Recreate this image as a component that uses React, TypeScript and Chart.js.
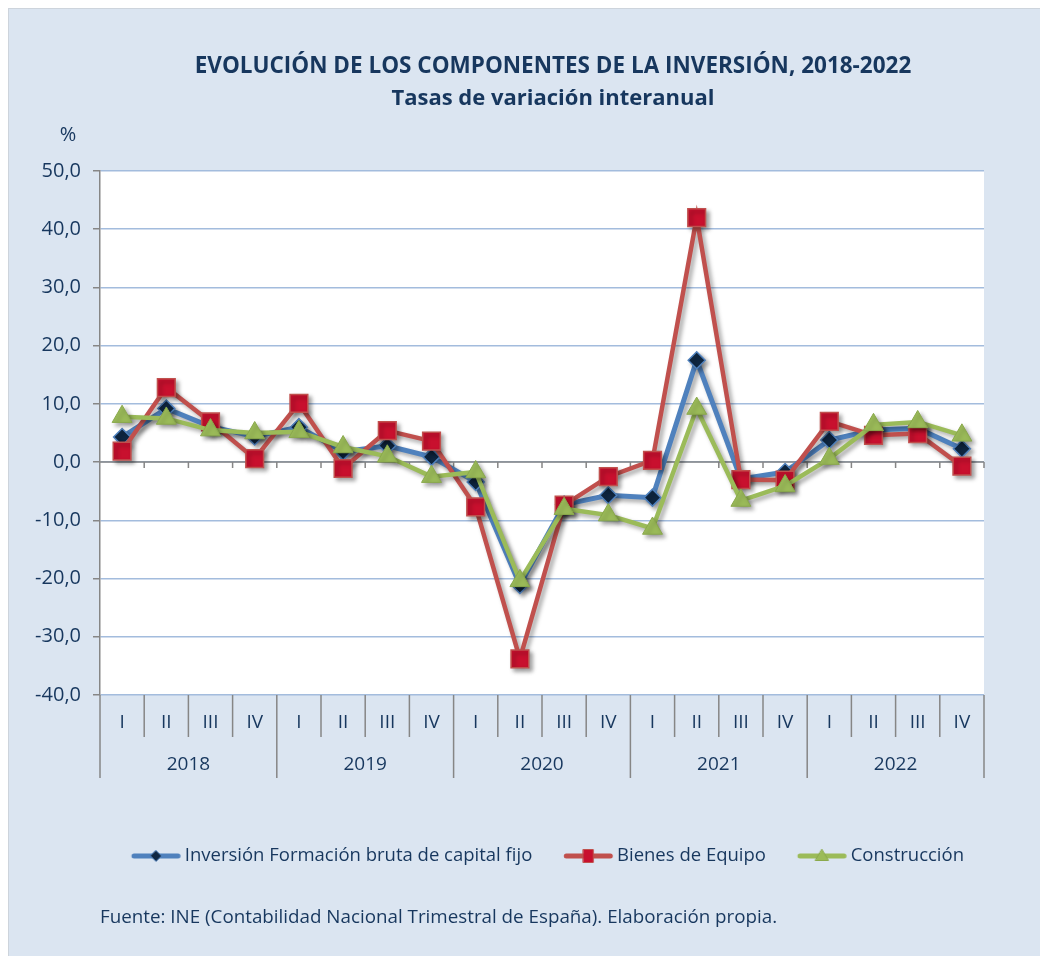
import React, { useEffect, useRef } from "react";
import { Chart, registerables } from "chart.js";

Chart.register(...registerables);

// ---------- DATA ----------
const quarterLabels = [
  "I", "II", "III", "IV",
  "I", "II", "III", "IV",
  "I", "II", "III", "IV",
  "I", "II", "III", "IV",
  "I", "II", "III", "IV",
];
const yearLabels = ["2018", "2019", "2020", "2021", "2022"];

const inversion = [4.3, 9.2, 6.1, 4.4, 6.0, 1.8, 2.8, 0.9, -3.4, -21.1, -7.3, -5.7, -6.1, 17.5, -2.9, -1.7, 3.8, 5.5, 5.8, 2.3];
const bienesEquipo = [1.9, 12.8, 6.9, 0.6, 10.1, -1.1, 5.4, 3.6, -7.7, -33.8, -7.4, -2.5, 0.3, 42.0, -3.0, -3.1, 7.0, 4.6, 4.9, -0.7];
const construccion = [7.8, 7.5, 5.5, 5.0, 5.2, 2.6, 1.0, -2.5, -1.7, -20.4, -8.0, -9.1, -11.4, 9.2, -6.6, -4.1, 0.6, 6.4, 6.9, 4.6];

const seriesNames = [
  "Inversión Formación bruta de capital fijo",
  "Bienes de Equipo",
  "Construcción",
];

const yMin = -40;
const yMax = 50;
const yStep = 10;

const titleLine1 = "EVOLUCIÓN DE LOS COMPONENTES DE LA INVERSIÓN, 2018-2022";
const titleLine2 = "Tasas de variación interanual";
const unitLabel = "%";
const sourceText = "Fuente: INE (Contabilidad Nacional Trimestral de España). Elaboración propia.";

// ---------- STYLE ----------
const TEXT = "#17375E";
const FONT = "'Open Sans', sans-serif";
const BG = "#DBE5F1";
const AXIS_GRAY = "#868686";
const GRID_BLUE = "#A3BCDD";

const BLUE = "#4F81BD";
const RED = "#C0504D";
const GREEN = "#9BBB59";

const LEGEND_FONT = 18.5;
const LEGEND_BOX = 67.5;
const LEGEND_PAD = 8;

// legend sample: line with marker, drawn into a small canvas used as point style
function makeIcon(line: string, marker: string, fill: string, stroke: string) {
  const c = document.createElement("canvas");
  c.width = 80;
  c.height = 20;
  const g = c.getContext("2d") as CanvasRenderingContext2D;
  const x0 = 30.25;
  const x1 = 78.25;
  const cx = (x0 + x1) / 2;
  g.strokeStyle = line;
  g.lineWidth = 5;
  g.lineCap = "round";
  g.beginPath();
  g.moveTo(x0 + 2, 10);
  g.lineTo(x1 - 2, 10);
  g.stroke();
  g.fillStyle = fill;
  g.strokeStyle = stroke;
  g.lineWidth = 1;
  g.beginPath();
  if (marker === "diamond") {
    g.moveTo(cx, 4.5);
    g.lineTo(cx + 5.5, 10);
    g.lineTo(cx, 15.5);
    g.lineTo(cx - 5.5, 10);
  } else if (marker === "square") {
    g.rect(cx - 5, 3.5, 10, 13);
  } else {
    g.moveTo(cx, 3.5);
    g.lineTo(cx + 6.5, 14.5);
    g.lineTo(cx - 6.5, 14.5);
  }
  g.closePath();
  g.fill();
  g.stroke();
  return c;
}

const bgPlugin = {
  id: "plotBg",
  beforeDraw(chart: any) {
    const { ctx, chartArea } = chart;
    ctx.save();
    ctx.fillStyle = "#FFFFFF";
    ctx.fillRect(chartArea.left, chartArea.top, chartArea.right - chartArea.left, chartArea.bottom - chartArea.top);
    ctx.restore();
  },
};

const shadowPlugin = {
  id: "lineShadow",
  beforeDatasetDraw(chart: any) {
    const ctx = chart.ctx;
    ctx.save();
    ctx.shadowColor = "rgba(0,0,0,0.35)";
    ctx.shadowBlur = 4;
    ctx.shadowOffsetX = 3;
    ctx.shadowOffsetY = 3;
  },
  afterDatasetDraw(chart: any) {
    chart.ctx.restore();
  },
};

const axisPlugin = {
  id: "quarterAxis",
  beforeDatasetsDraw(chart: any) {
    const { ctx, chartArea } = chart;
    const x = chart.scales.x;
    const y = chart.scales.y;
    const n = chart.data.labels.length;
    const w = (x.right - x.left) / n;
    const y0 = y.getPixelForValue(0);
    ctx.save();
    ctx.strokeStyle = AXIS_GRAY;
    ctx.lineWidth = 1.5;
    ctx.beginPath();
    ctx.moveTo(chartArea.left, y0);
    ctx.lineTo(chartArea.right, y0);
    for (let i = 1; i <= n; i++) {
      const px = x.getPixelForValue(i - 1) + w / 2;
      ctx.moveTo(px, y0);
      ctx.lineTo(px, y0 + 6);
    }
    ctx.stroke();
    ctx.restore();
  },
  afterDraw(chart: any) {
    const { ctx, chartArea } = chart;
    const x = chart.scales.x;
    const n = chart.data.labels.length;
    const w = (x.right - x.left) / n;
    const bottom = chartArea.bottom;
    ctx.save();
    ctx.strokeStyle = AXIS_GRAY;
    ctx.lineWidth = 1.5;
    ctx.beginPath();
    for (let i = 0; i <= n; i++) {
      const px = i < n ? x.getPixelForValue(i) - w / 2 : x.getPixelForValue(n - 1) + w / 2;
      const len = i % 4 === 0 ? 83 : 42;
      ctx.moveTo(px, bottom);
      ctx.lineTo(px, bottom + len);
    }
    ctx.stroke();
    ctx.fillStyle = TEXT;
    ctx.font = `19px ${FONT}`;
    ctx.textAlign = "center";
    ctx.textBaseline = "middle";
    for (let i = 0; i < n; i++) {
      ctx.fillText(quarterLabels[i], x.getPixelForValue(i), bottom + 28);
    }
    yearLabels.forEach((yr, k) => {
      const a = x.getPixelForValue(k * 4) - w / 2;
      const b = x.getPixelForValue(k * 4 + 3) + w / 2;
      ctx.fillText(yr, (a + b) / 2, bottom + 70);
    });
    ctx.restore();
  },
};

export default function App() {
  const ref = useRef<HTMLCanvasElement | null>(null);

  useEffect(() => {
    document.documentElement.style.overflow = "hidden";
    if (!ref.current) return;
    Chart.defaults.font.family = FONT;
    const icons = [
      makeIcon(BLUE, "diamond", "#0F2742", BLUE),
      makeIcon(RED, "square", "#C8102E", RED),
      makeIcon(GREEN, "triangle", GREEN, "#8AA94C"),
    ];
    const chart = new Chart(ref.current, {
      type: "line",
      data: {
        labels: quarterLabels.map((q, i) => `${q} ${yearLabels[Math.floor(i / 4)]}`),
        datasets: [
          {
            label: seriesNames[0],
            data: inversion,
            borderColor: BLUE,
            borderWidth: 5,
            pointStyle: "rectRot",
            pointRadius: 8.5,
            pointBackgroundColor: "#0F2742",
            pointBorderColor: BLUE,
            pointBorderWidth: 1.5,
            tension: 0,
            order: 3,
          },
          {
            label: seriesNames[1],
            data: bienesEquipo,
            borderColor: RED,
            borderWidth: 4.5,
            pointStyle: "rect",
            pointRadius: 12.5,
            pointBackgroundColor: "#C8102E",
            pointBorderColor: RED,
            pointBorderWidth: 1.5,
            tension: 0,
            order: 2,
          },
          {
            label: seriesNames[2],
            data: construccion,
            borderColor: GREEN,
            borderWidth: 4.5,
            pointStyle: "triangle",
            pointRadius: 11.5,
            pointBackgroundColor: GREEN,
            pointBorderColor: "#8AA94C",
            pointBorderWidth: 1,
            tension: 0,
            order: 1,
          },
        ],
      },
      options: {
        responsive: false,
        animation: false,
        events: [],
        layout: { padding: { top: 162, left: 0, right: 55, bottom: 79.75 } },
        plugins: {
          title: { display: false },
          tooltip: { enabled: false },
          legend: {
            position: "bottom",
            fullSize: false,
            align: "start",
            labels: {
              usePointStyle: true,
              pointStyleWidth: LEGEND_BOX,
              padding: LEGEND_PAD,
              color: TEXT,
              font: { family: FONT, size: LEGEND_FONT },
              generateLabels: (c: any) =>
                c.data.datasets.map((ds: any, i: number) => ({
                  text: ds.label,
                  pointStyle: icons[i],
                  fillStyle: "transparent",
                  strokeStyle: "transparent",
                  lineWidth: 0,
                  hidden: false,
                  datasetIndex: i,
                  fontColor: TEXT,
                })),
            },
          },
        },
        scales: {
          x: {
            type: "category",
            offset: true,
            grid: { display: false },
            border: { display: false },
            ticks: { display: false },
            afterFit: (s: any) => {
              s.height = 143.75;
            },
          },
          y: {
            min: yMin,
            max: yMax,
            ticks: {
              stepSize: yStep,
              color: TEXT,
              font: { family: FONT, size: 20 },
              padding: 12,
              callback: (v: any) => Number(v).toFixed(1).replace(".", ","),
            },
            grid: { color: GRID_BLUE, lineWidth: 1.5, tickLength: 7, tickColor: AXIS_GRAY },
            border: { display: true, color: AXIS_GRAY, width: 1.5 },
            afterFit: (s: any) => {
              s.width = 91;
            },
          },
        },
      },
      plugins: [bgPlugin, shadowPlugin, axisPlugin],
    } as any);
    return () => chart.destroy();
  }, []);

  return (
    <div
      style={{
        position: "fixed",
        left: 8,
        top: 8,
        right: 0,
        bottom: 0,
        boxSizing: "border-box",
        borderTop: "1px solid #CDD4DC",
        borderLeft: "1px solid #CDD4DC",
        background: BG,
        overflow: "hidden",
        fontFamily: FONT,
        color: TEXT,
      }}
    >
      <canvas ref={ref} width={1030} height={946} style={{ position: "absolute", left: 0, top: 0 }} />
      <div
        style={{
          position: "absolute",
          left: 29,
          top: 41,
          width: 1030,
          textAlign: "center",
          fontWeight: 700,
          fontSize: 22.5,
          lineHeight: "30px",
          whiteSpace: "nowrap",
        }}
      >
        {titleLine1}
      </div>
      <div
        style={{
          position: "absolute",
          left: 29,
          top: 72,
          width: 1030,
          textAlign: "center",
          fontWeight: 700,
          fontSize: 22,
          lineHeight: "30px",
          whiteSpace: "nowrap",
        }}
      >
        {titleLine2}
      </div>
      <div
        style={{
          position: "absolute",
          left: 48,
          top: 112,
          width: 22,
          textAlign: "center",
          fontSize: 20,
          lineHeight: "26px",
        }}
      >
        {unitLabel}
      </div>
      <div
        style={{
          position: "absolute",
          left: 91,
          top: 893,
          fontSize: 18.8,
          lineHeight: "28px",
          whiteSpace: "nowrap",
        }}
      >
        {sourceText}
      </div>
    </div>
  );
}
